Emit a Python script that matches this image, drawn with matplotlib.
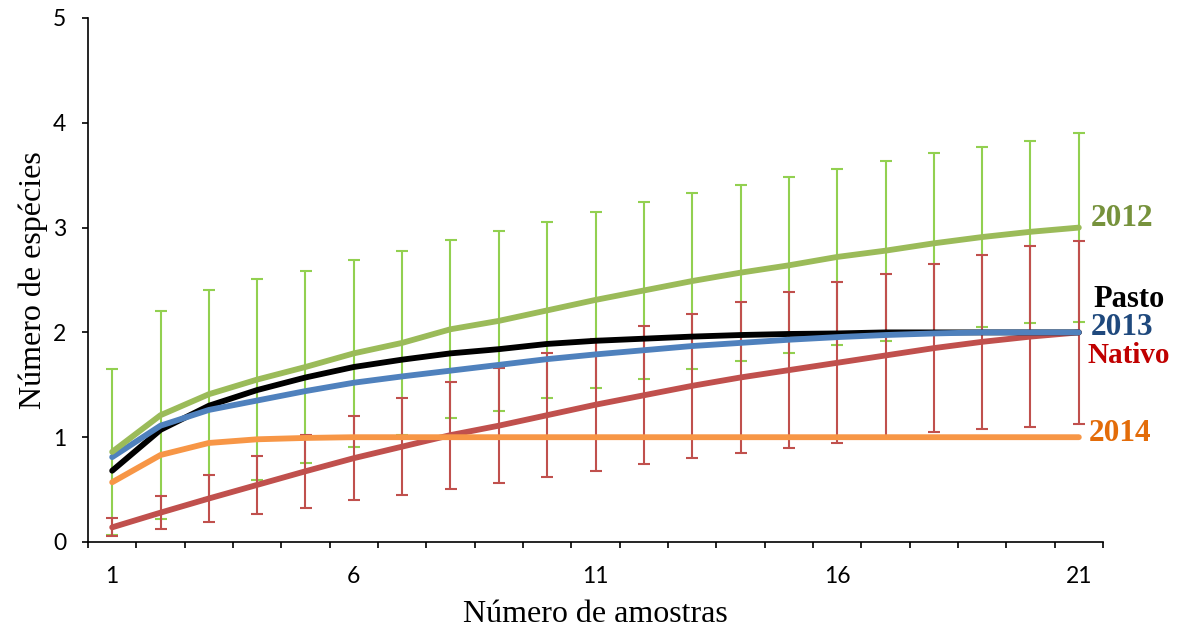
import numpy as np
import matplotlib
matplotlib.use('Agg')
import matplotlib.pyplot as plt
from matplotlib.ticker import FixedLocator, NullFormatter

# Curvas de acumulação de espécies
amostras = np.arange(1, 22)

ano_2012 = [0.86, 1.21, 1.41, 1.55, 1.67, 1.80, 1.90, 2.03, 2.11, 2.21, 2.31,
            2.40, 2.49, 2.57, 2.64, 2.72, 2.78, 2.85, 2.91, 2.96, 3.00]
erro_2012 = [0.79, 0.99, 0.99, 0.96, 0.92, 0.89, 0.88, 0.85, 0.86, 0.84, 0.84,
             0.84, 0.84, 0.84, 0.84, 0.84, 0.86, 0.86, 0.86, 0.87, 0.90]

pasto = [0.68, 1.07, 1.30, 1.45, 1.57, 1.67, 1.74, 1.80, 1.84, 1.89, 1.92,
         1.94, 1.96, 1.975, 1.985, 1.99, 2.0, 2.0, 2.0, 2.0, 2.0]

ano_2013 = [0.81, 1.11, 1.26, 1.35, 1.44, 1.52, 1.58, 1.635, 1.69, 1.745, 1.79,
            1.83, 1.87, 1.90, 1.93, 1.955, 1.975, 1.99, 2.0, 2.0, 2.0]

ano_2014 = [0.57, 0.83, 0.945, 0.98, 0.993, 1.0, 1.0, 1.0, 1.0, 1.0, 1.0,
            1.0, 1.0, 1.0, 1.0, 1.0, 1.0, 1.0, 1.0, 1.0, 1.0]

nativo = [0.14, 0.28, 0.415, 0.545, 0.675, 0.80, 0.91, 1.02, 1.11, 1.21, 1.31,
          1.40, 1.49, 1.57, 1.64, 1.71, 1.78, 1.85, 1.91, 1.96, 2.0]
erro_nativo = [0.085, 0.155, 0.22, 0.28, 0.35, 0.40, 0.46, 0.51, 0.55, 0.59, 0.63,
               0.66, 0.69, 0.72, 0.745, 0.77, 0.78, 0.805, 0.83, 0.86, 0.87]

fig = plt.figure(figsize=(11.86, 6.35), dpi=100)
ax = fig.add_axes([88/1186, 1 - 542/635, (1103 - 88)/1186, (542 - 18)/635])

# error bars first, lines on top
ax.errorbar(amostras, ano_2012, yerr=erro_2012, fmt='none', ecolor='#92D050',
            elinewidth=1.5, capsize=4.2, capthick=1.5, zorder=1)
ax.errorbar(amostras, nativo, yerr=erro_nativo, fmt='none', ecolor='#C0504D',
            elinewidth=1.5, capsize=4.2, capthick=1.5, zorder=1.5)

lw = 4.2
ax.plot(amostras, nativo, color='#C0504D', lw=lw, solid_capstyle='round', zorder=2)
ax.plot(amostras, pasto, color='black', lw=lw, solid_capstyle='round', zorder=3)
ax.plot(amostras, ano_2013, color='#4F81BD', lw=lw, solid_capstyle='round', zorder=4)
ax.plot(amostras, ano_2014, color='#F79646', lw=lw, solid_capstyle='round', zorder=5)
ax.plot(amostras, ano_2012, color='#9BBB59', lw=lw, solid_capstyle='round', zorder=6)

ax.set_xlim(0.5, 21.5)
ax.set_ylim(0, 5)

for s in ['top', 'right']:
    ax.spines[s].set_visible(False)
for s in ['left', 'bottom']:
    ax.spines[s].set_linewidth(1.2)

# category-style axis: ticks between categories, labels every 5
ax.xaxis.set_major_locator(FixedLocator(np.arange(0.5, 22, 1)))
ax.xaxis.set_major_formatter(NullFormatter())
ax.xaxis.set_minor_locator(FixedLocator([1, 6, 11, 16, 21]))
ax.set_xticklabels(['1', '6', '11', '16', '21'], minor=True)
ax.tick_params(axis='x', which='major', direction='out', length=4.5, width=1.2)
ax.tick_params(axis='x', which='minor', length=0, pad=17, labelsize=16.5)
ax.set_yticks([0, 1, 2, 3, 4, 5])
ax.tick_params(axis='y', direction='out', length=4.5, width=1.2, pad=11, labelsize=16.5)
for lab in ax.get_xticklabels(minor=True) + ax.get_yticklabels():
    lab.set_family('Lato')

fig.text(33/1186, 1 - 280/635, 'Número de espécies', rotation=90, ha='center',
         va='center', family='Liberation Serif', fontsize=23)
fig.text(595/1186, 1 - 614/635, 'Número de amostras', ha='center',
         va='center', family='Liberation Serif', fontsize=23)

rotulos = [
    (21.25, 3.09, '2012', '#76923C', 22.5),
    (21.31, 2.31, 'Pasto', 'black', 22),
    (21.25, 2.05, '2013', '#1F497D', 22.5),
    (21.17, 1.78, 'Nativo', '#C00000', 21),
    (21.2, 1.04, '2014', '#E36C09', 22.5),
]
for x, y, txt, cor, tam in rotulos:
    ax.text(x, y, txt, color=cor, fontsize=tam, fontweight='bold',
            family='Liberation Serif', ha='left', va='center', clip_on=False)

fig.savefig('out.png', dpi=100)
